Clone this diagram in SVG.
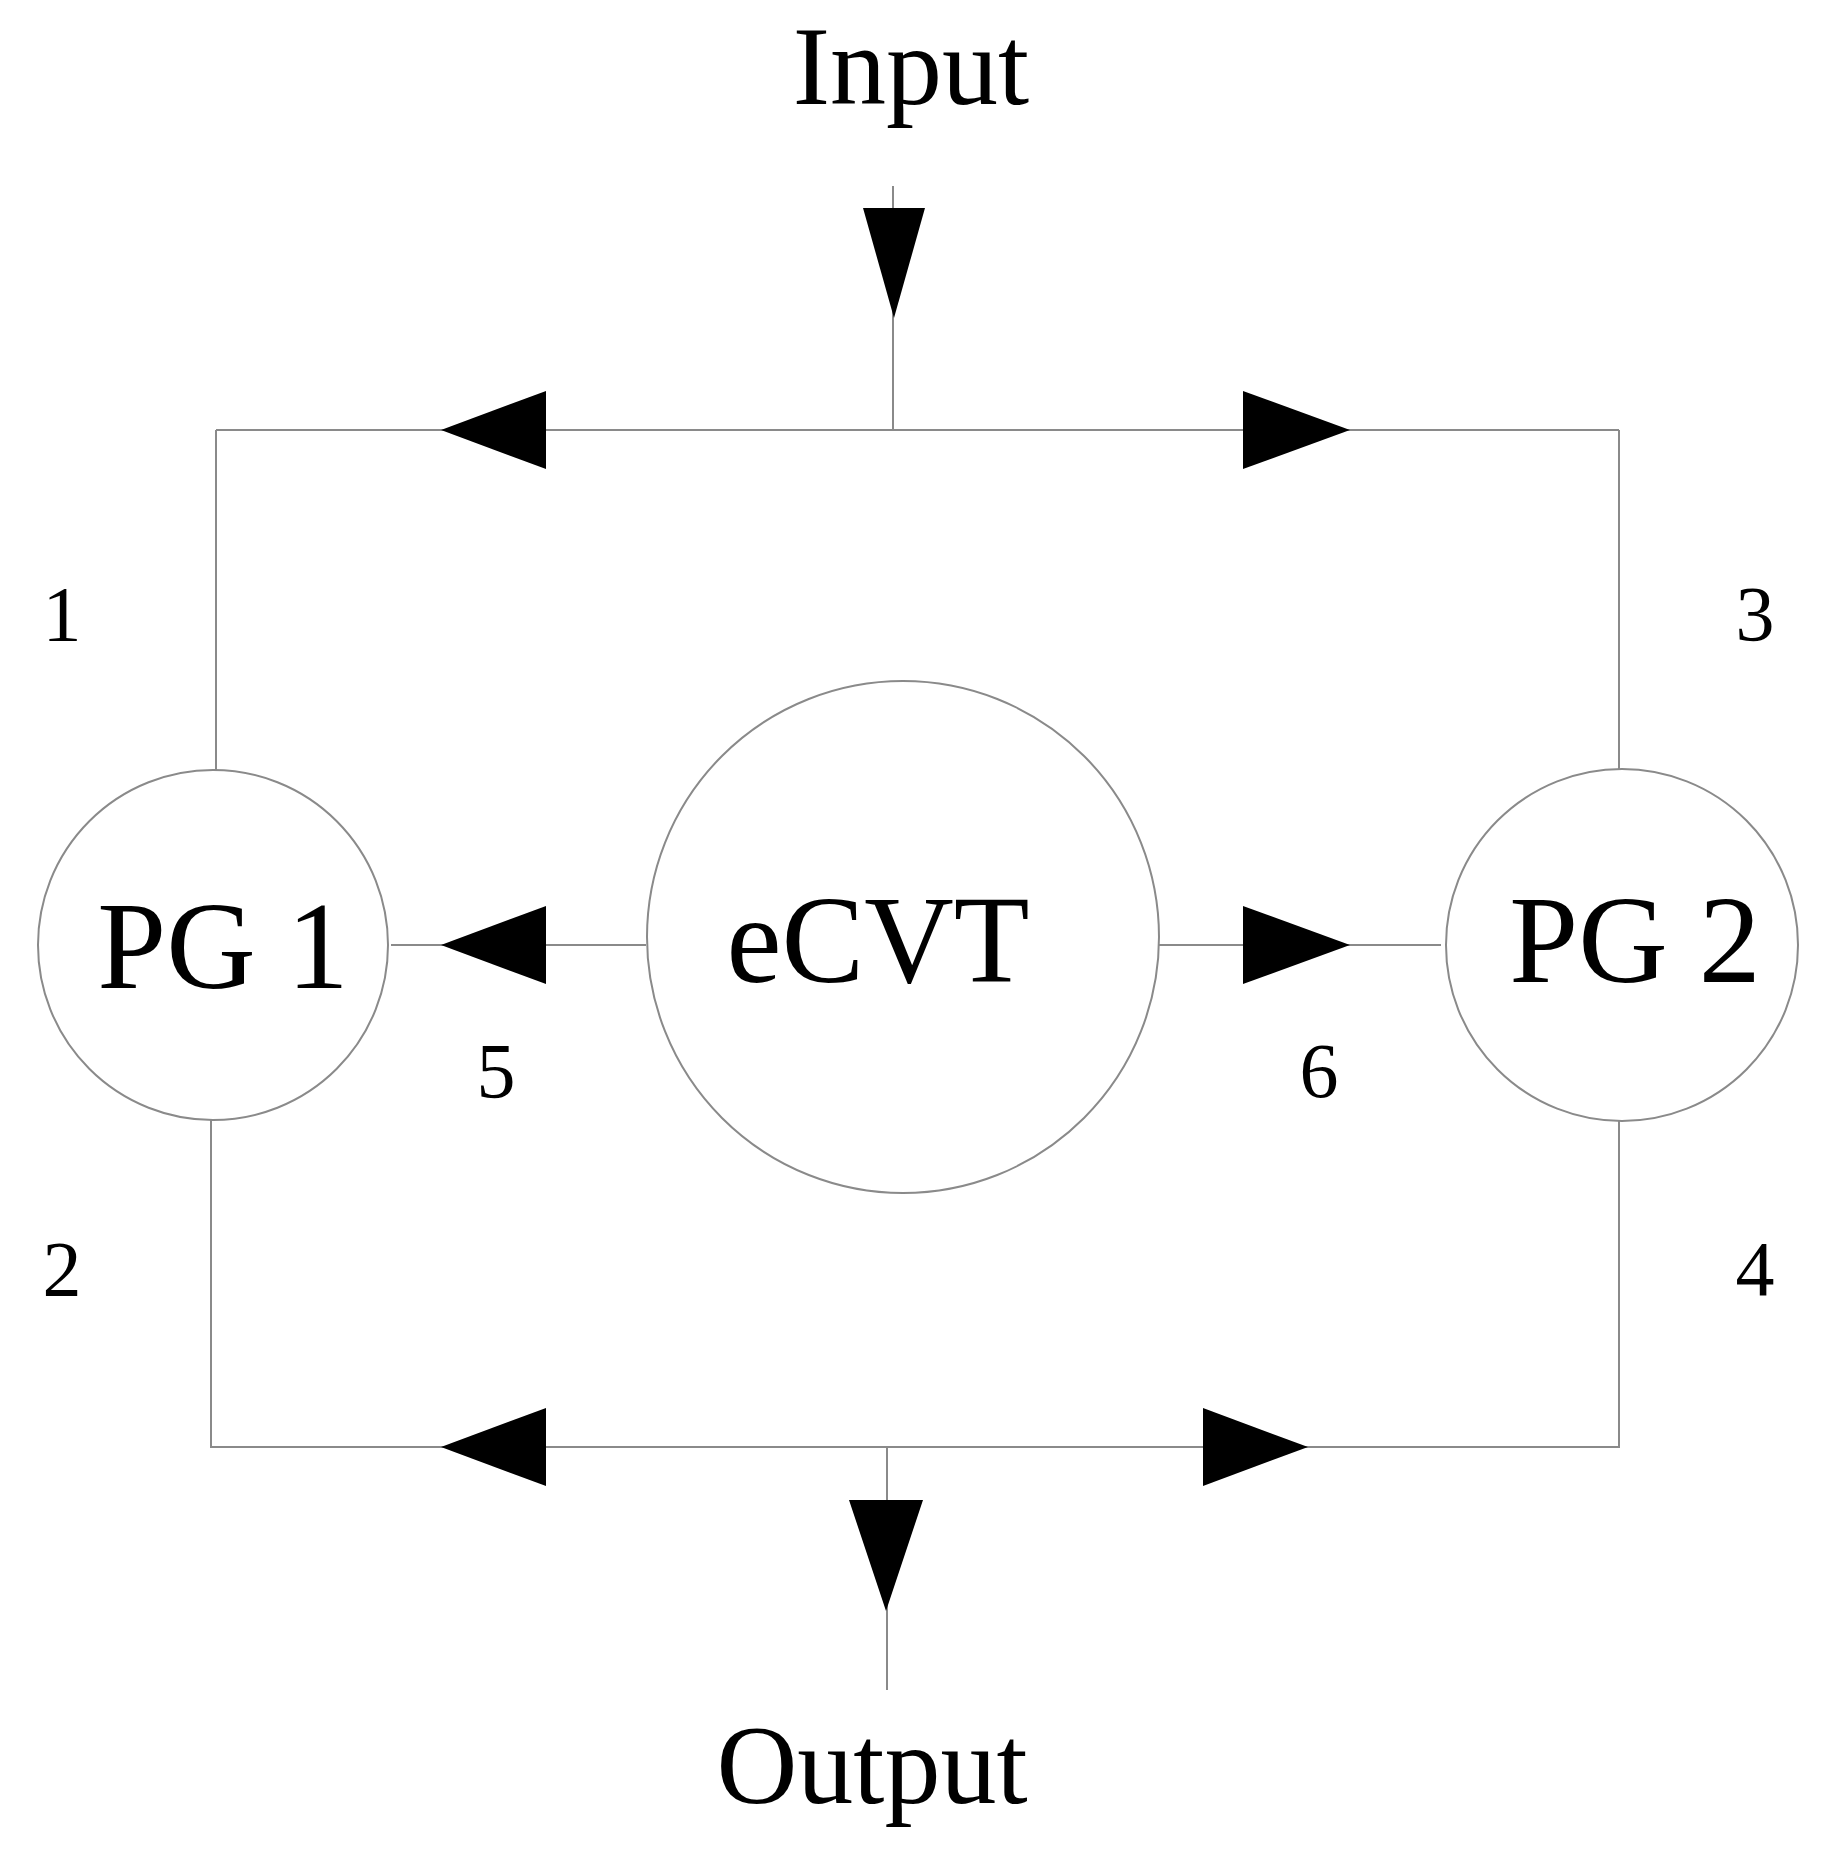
<svg xmlns="http://www.w3.org/2000/svg" width="1833" height="1864" viewBox="0 0 1833 1864">
<style>
.l{stroke:#8a8a8a;stroke-width:2;fill:none}
.c{stroke:#8a8a8a;stroke-width:2;fill:#fff}
.a{fill:#000}
text{font-family:"Liberation Serif",serif;fill:#000;text-anchor:middle}
.big{font-size:112px}
.node{font-size:124px}
.num{font-size:78px}
</style>
<rect width="1833" height="1864" fill="#fff"/>
<g id="connectors">
<path class="l" d="M893 186V430M216 430H1619M216 430V770M1619 430V770M391 945H646M1159 945H1441M211 1120V1447H1619V1117M887 1447V1690"/>
<polygon class="a" points="863,208 925,208 894,318"/>
<polygon class="a" points="441,430 546,391 546,469"/>
<polygon class="a" points="1350,430 1243,391 1243,469"/>
<polygon class="a" points="441,945 546,906 546,984"/>
<polygon class="a" points="1350,945 1243,906 1243,984"/>
<polygon class="a" points="441,1447 546,1408 546,1486"/>
<polygon class="a" points="1308,1447 1203,1408 1203,1486"/>
<polygon class="a" points="849,1500 923,1500 886,1611"/>
</g>
<g id="pg1"><circle class="c" cx="213" cy="945" r="175"/><text class="node" x="223" y="988">PG 1</text></g>
<g id="ecvt"><circle class="c" cx="903" cy="937" r="256"/><text class="node" x="878" y="982">eCVT</text></g>
<g id="pg2"><circle class="c" cx="1622" cy="945" r="176"/><text class="node" x="1635" y="982">PG 2</text></g>
<g id="labels">
<text class="big" x="911" y="104">Input</text>
<text class="big" x="872" y="1803">Output</text>
<text class="num" x="62" y="640">1</text>
<text class="num" x="1755" y="640">3</text>
<text class="num" x="496" y="1097">5</text>
<text class="num" x="1319" y="1097">6</text>
<text class="num" x="62" y="1295">2</text>
<text class="num" x="1755" y="1295">4</text>
</g>
</svg>
